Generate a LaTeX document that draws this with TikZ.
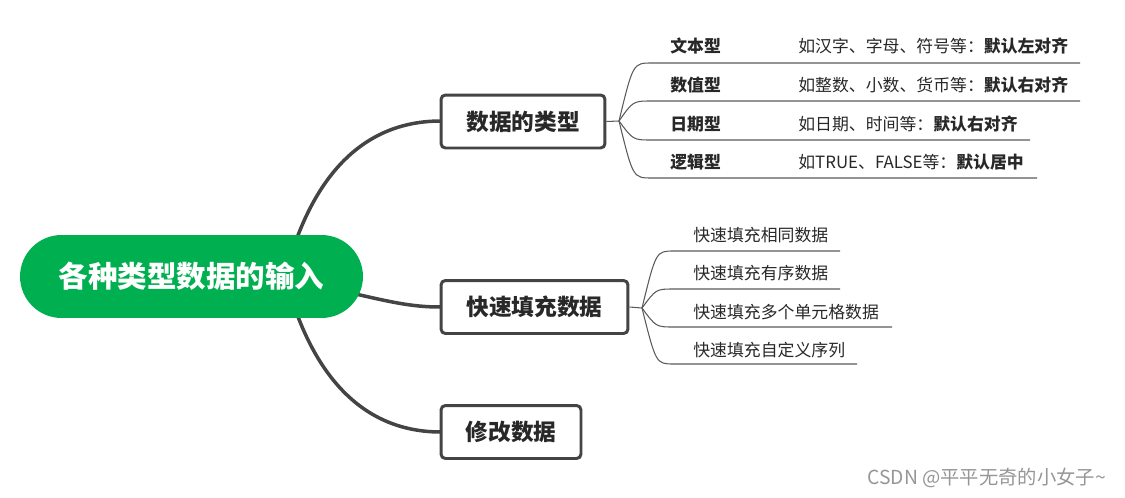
\documentclass[tikz,border=0pt]{standalone}
\usepackage{fontspec}
\setmainfont{Noto Sans CJK SC}
\definecolor{rootgreen}{RGB}{0,176,80}
\definecolor{linegray}{RGB}{68,68,68}
\definecolor{thingray}{RGB}{90,90,90}
\definecolor{txt}{RGB}{40,40,40}
\definecolor{wm}{RGB}{150,150,150}
\begin{document}
\begin{tikzpicture}[x=0.02cm,y=-0.02cm,
  mainline/.style={draw=linegray,line width=2pt},
  thinline/.style={draw=thingray,line width=0.6pt},
  topicbox/.style={draw=linegray,line width=1.7pt,fill=white,rounded corners=2.5pt,
    minimum height=1.06cm,inner sep=0pt,font=\fontsize{12.9}{14}\selectfont\bfseries,text=txt},
  leaf/.style={anchor=west,inner sep=0pt,font=\fontsize{9.6}{11}\selectfont,text=txt},
  leafb/.style={leaf,font=\fontsize{9.6}{11}\selectfont\bfseries}]
\useasboundingbox (0,0) rectangle (1125,497);
% main connectors
\coordinate (rs) at (285,276);
\coordinate (rm) at (330,288);
\draw[mainline] (rs) .. controls (310,180) and (360,121) .. (441,121);
\draw[mainline] (rm) .. controls (390,302) and (410,307) .. (441,307);
\draw[mainline] (rs) .. controls (310,372) and (360,432) .. (441,432);
% root
\node[fill=rootgreen,draw=none,rounded corners=0.83cm,minimum width=6.86cm,minimum height=1.66cm,
  text=white,font=\fontsize{16.8}{18}\selectfont\bfseries] (root) at (191.5,276.5) {各种类型数据的输入};
% topics
\node[topicbox,minimum width=3.28cm] (t1) at (523,121.5) {数据的类型};
\node[topicbox,minimum width=3.74cm] (t2) at (534.5,307) {快速填充数据};
\node[topicbox,minimum width=2.8cm] (t3) at (511,432) {修改数据};
% fan 1
\coordinate (f1) at (619,121);
\draw[thinline] (t1.east) -- (f1);
\foreach \i/\yl/\xe in {a/63/1080,b/101/1080,c/140/1030,d/178/1037}{
  \coordinate (s\i) at (652,\yl);
  \coordinate (e\i) at (\xe,\yl);
  \draw[thinline] (f1) .. controls (633,\yl) .. (s\i) -- (e\i);
}
\node[leafb] (la) at (670,46) {文本型};
\node[leaf] (da) at (798,46) {如汉字、字母、符号等：\textbf{默认左对齐}};
\node[leafb] (lb) at (670,85) {数值型};
\node[leaf] (db) at (798,85) {如整数、小数、货币等：\textbf{默认右对齐}};
\node[leafb] (lc) at (670,124) {日期型};
\node[leaf] (dc) at (798,124) {如日期、时间等：\textbf{默认右对齐}};
\node[leafb] (ld) at (670,162) {逻辑型};
\node[leaf] (dd) at (798,162) {如TRUE、FALSE等：\textbf{默认居中}};
% fan 2
\coordinate (f2) at (642,308);
\draw[thinline] (t2.east) -- (f2);
\foreach \i/\yl/\xe in {a/251/840,b/289/840,c/327/892,d/364/857}{
  \coordinate (q\i) at (674,\yl);
  \coordinate (r\i) at (\xe,\yl);
  \draw[thinline] (f2) .. controls (656,\yl) .. (q\i) -- (r\i);
}
\node[leaf] (ka) at (693,235) {快速填充相同数据};
\node[leaf] (kb) at (693,273) {快速填充有序数据};
\node[leaf] (kc) at (693,312) {快速填充多个单元格数据};
\node[leaf] (kd) at (693,350) {快速填充自定义序列};
% watermark
\node[anchor=west,inner sep=0pt,text=wm,font=\fontsize{11}{12}\selectfont] (wmk) at (867,478) {CSDN @平平无奇的小女子\textasciitilde};
\end{tikzpicture}
\end{document}
